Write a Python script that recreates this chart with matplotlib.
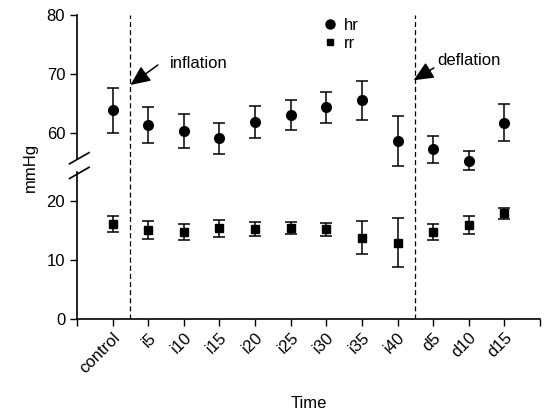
import matplotlib
matplotlib.use("Agg")
import matplotlib.pyplot as plt
from matplotlib.lines import Line2D
import numpy as np

plt.rcParams['font.family'] = ['Liberation Sans', 'DejaVu Sans']

categories = ['control', 'i5', 'i10', 'i15', 'i20', 'i25', 'i30', 'i35', 'i40', 'd5', 'd10', 'd15']
hr_mean = [63.8, 61.3, 60.2, 59.0, 61.8, 63.0, 64.3, 65.5, 58.6, 57.2, 55.2, 61.7]
hr_err = [3.8, 3.0, 2.9, 2.7, 2.7, 2.6, 2.6, 3.3, 4.3, 2.3, 1.6, 3.1]
rr_mean = [16.2, 15.1, 14.8, 15.4, 15.3, 15.5, 15.3, 13.8, 13.0, 14.8, 16.0, 18.0]
rr_err = [1.4, 1.5, 1.4, 1.4, 1.25, 1.0, 1.1, 2.8, 4.2, 1.35, 1.5, 0.95]
lower_ticks = [0, 10, 20]
upper_ticks = [60, 70, 80]

# broken axis: upper segment shifted down
OFFSET = 31.7
def up(v):
    return np.asarray(v, dtype=float) - 60 + OFFSET

fig = plt.figure(figsize=(5.48, 4.16), dpi=100)
ax = fig.add_axes([0.1405, 0.233, 0.845, 0.731])

x = np.arange(1, len(categories) + 1)

ax.errorbar(x, up(hr_mean), yerr=hr_err, fmt='o', color='black', ms=7,
            capsize=4, elinewidth=1.1, capthick=1.1, clip_on=False, zorder=3)
ax.errorbar(x, rr_mean, yerr=rr_err, fmt='s', color='black', ms=5.5,
            capsize=4, elinewidth=1.1, capthick=1.1, clip_on=False, zorder=3)

ax.set_xlim(0, 13)
ax.set_ylim(0, up(80))

for xv in (1.5, 9.5):
    ax.axvline(xv, color='black', lw=0.9, ls=(0, (4, 2.5)), zorder=1)

ax.set_xticks(np.arange(0, 14))
ax.set_xticklabels([''] + categories + [''], rotation=45, ha='right',
                   rotation_mode='anchor', fontsize=12)
yt = list(lower_ticks) + list(up(upper_ticks))
ax.set_yticks(yt)
ax.set_yticklabels([str(t) for t in lower_ticks] + [str(t) for t in upper_ticks], fontsize=12)
ax.tick_params(axis='both', direction='out', length=5, width=1, color='black')
ax.tick_params(axis='x', pad=3)

for s in ('top', 'right', 'left'):
    ax.spines[s].set_visible(False)
ax.spines['bottom'].set_linewidth(1.2)

# left spine with gap and break slashes
tr = ax.get_yaxis_transform()
ax.plot([0, 0], [0, 25.0], color='black', lw=1.2, transform=tr, clip_on=False)
ax.plot([0, 0], [27.4, up(80)], color='black', lw=1.2, transform=tr, clip_on=False)
ax.plot([-0.016, 0.026], [26.4, 28.3], color='black', lw=1.2, transform=tr, clip_on=False)
ax.plot([-0.016, 0.026], [23.9, 25.8], color='black', lw=1.2, transform=tr, clip_on=False)

arrow_kw = dict(arrowstyle='-|>,head_length=1.0,head_width=0.45', color='black',
                lw=1.1, mutation_scale=12, shrinkA=0, shrinkB=0)
ax.annotate('', xy=(1.5, up(68.1)), xytext=(2.27, up(71.5)), arrowprops=arrow_kw)
ax.text(2.6, up(71.8), 'inflation', fontsize=12, va='center', ha='left')
ax.annotate('', xy=(9.45, up(68.9)), xytext=(10.02, up(71.0)), arrowprops=arrow_kw)
ax.text(10.1, up(72.3), 'deflation', fontsize=12, va='center', ha='left')

handles = [Line2D([], [], ls='none', marker='o', color='black', ms=6.5),
           Line2D([], [], ls='none', marker='s', color='black', ms=5)]
ax.legend(handles, ['hr', 'rr'], loc='upper left', bbox_to_anchor=(0.50, 1.04),
          frameon=False, fontsize=12, handlelength=0.8, handletextpad=0.4,
          labelspacing=0.2)

ax.set_xlabel('Time', fontsize=12, labelpad=14)
ax.set_ylabel('mmHg', fontsize=12, labelpad=6)

fig.savefig('out.png', dpi=100)
